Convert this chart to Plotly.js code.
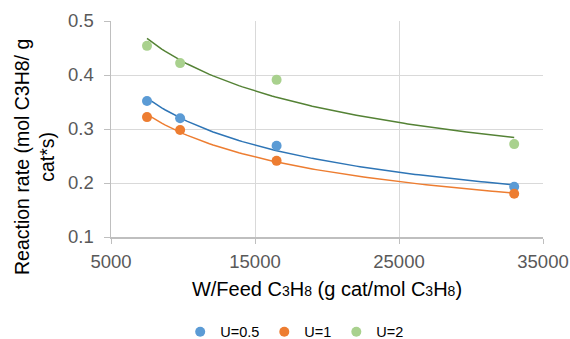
<!DOCTYPE html>
<html><head><meta charset="utf-8">
<script src="https://cdn.plot.ly/plotly-3.0.1.min.js"></script>
<style>html,body{margin:0;padding:0;background:#fff}#chart{width:570px;height:339px}</style>
</head><body><div id="chart"></div>
<script>
const feed = [7500, 9800, 16500, 33000];
const seriesNames = ['U=0.5', 'U=1', 'U=2'];
const rateU05 = [0.352, 0.320, 0.269, 0.193];
const rateU1 = [0.322, 0.298, 0.241, 0.180];
const rateU2 = [0.454, 0.422, 0.391, 0.272];
const xTicks = [5000, 15000, 25000, 35000];
const yTicks = [0.1, 0.2, 0.3, 0.4, 0.5];
const yTitle = 'Reaction rate (mol C3H8/ g<br>cat*s)';

const markerColors = ['#5B9BD5', '#ED7D31', '#A9D18E'];
const lineColors = ['#2E75B6', '#ED7D31', '#548235'];
const allRates = [rateU05, rateU1, rateU2];

// Excel-style power trendline: least squares on ln(y) vs ln(x)
function powerFit(xs, ys) {
  const lx = xs.map(Math.log), ly = ys.map(Math.log);
  const n = xs.length;
  const mx = lx.reduce((a, b) => a + b) / n, my = ly.reduce((a, b) => a + b) / n;
  let sxy = 0, sxx = 0;
  for (let i = 0; i < n; i++) { sxy += (lx[i] - mx) * (ly[i] - my); sxx += (lx[i] - mx) ** 2; }
  const b = sxy / sxx, a = Math.exp(my - b * mx);
  const x0 = Math.min(...xs), x1 = Math.max(...xs);
  const fx = [], fy = [];
  for (let k = 0; k <= 100; k++) { const x = x0 + (x1 - x0) * k / 100; fx.push(x); fy.push(a * Math.pow(x, b)); }
  return {fx, fy};
}

const traces = [];
allRates.forEach((ys, i) => {
  const f = powerFit(feed, ys);
  traces.push({x: f.fx, y: f.fy, mode: 'lines', line: {color: lineColors[i], width: 1.5}, showlegend: false, hoverinfo: 'skip'});
});
allRates.forEach((ys, i) => {
  traces.push({x: feed, y: ys, mode: 'markers', name: seriesNames[i], marker: {color: markerColors[i], size: 10}});
});

const small = s => '<span style="font-size:14px">' + s + '</span>';
const layout = {
  width: 570, height: 339,
  margin: {l: 111, r: 27, t: 21, b: 102, autoexpand: false},
  paper_bgcolor: '#fff', plot_bgcolor: '#fff',
  font: {family: 'Liberation Sans, Arial, sans-serif', color: '#595959', size: 18.5},
  xaxis: {
    range: [5000, 35000], tickvals: xTicks, ticktext: xTicks.map(String),
    showgrid: true, gridcolor: '#D9D9D9', gridwidth: 1,
    showline: true, linecolor: '#BFBFBF', linewidth: 1.5,
    ticks: 'outside', ticklen: 5, tickcolor: '#BFBFBF',
    ticklabelstandoff: 2,
    zeroline: false,
    title: {text: 'W/Feed C' + small('3') + 'H' + small('8') + ' (g cat/mol C' + small('3') + 'H' + small('8') + ')', font: {color: '#000', size: 20}, standoff: 11}
  },
  yaxis: {
    range: [0.1, 0.5], tickvals: yTicks, ticktext: yTicks.map(v => v.toFixed(1)),
    showgrid: true, gridcolor: '#D9D9D9', gridwidth: 1,
    showline: true, linecolor: '#BFBFBF', linewidth: 1.5,
    ticks: 'outside', ticklen: 6, tickcolor: '#BFBFBF',
    ticklabelstandoff: 6,
    zeroline: false
  },
  annotations: [{
    text: yTitle, textangle: -90, showarrow: false,
    xref: 'paper', yref: 'paper', x: (34 - 111) / 432, y: (237 - 157) / 216,
    xanchor: 'center', yanchor: 'middle', align: 'center',
    font: {color: '#000', size: 19.5, family: 'Liberation Sans, Arial, sans-serif'}
  }],
  showlegend: true,
  legend: {orientation: 'h', xref: 'container', yref: 'container', x: 0.517, xanchor: 'center', y: 0.021, yanchor: 'middle', bgcolor: 'rgba(0,0,0,0)', font: {color: '#000', size: 14.5}, itemwidth: 30}
};
Plotly.newPlot('chart', traces, layout, {displayModeBar: false, staticPlot: true});
</script></body></html>
